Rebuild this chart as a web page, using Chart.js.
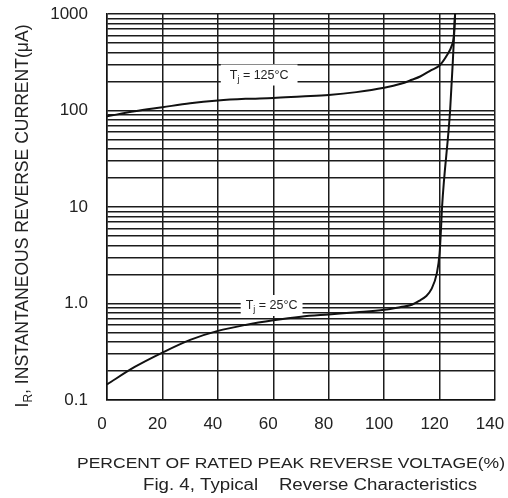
<!DOCTYPE html>
<html>
<head>
<meta charset="utf-8">
<script src="https://cdn.jsdelivr.net/npm/chart.js@4.4.1/dist/chart.umd.min.js"></script>
<style>
  html, body { margin: 0; padding: 0; background: #fff; }
  #wrap { width: 508px; height: 498px; }
</style>
</head>
<body>
<div id="wrap"><canvas id="chart" width="508" height="498"></canvas></div>
<script>
// values (percent of rated peak reverse voltage -> reverse current, uA)
const pct25 = [0, 10, 20, 30, 40, 50, 60, 70, 80, 90, 100, 106, 110, 113, 115, 117, 119, 120, 120.5, 120.9, 123.8, 124.8, 125.6];
const cur25 = [0.145, 0.22, 0.31, 0.42, 0.52, 0.6, 0.67, 0.73, 0.77, 0.81, 0.86, 0.92, 0.97, 1.08, 1.18, 1.4, 2.05, 3.3, 5.8, 10, 100, 330, 1000];

const pct125 = [0, 10, 20, 30, 40, 50, 60, 70, 80, 90, 100, 106, 110, 113, 117, 120, 122.6, 124.4, 125.1, 125.6];
const cur125 = [87, 98, 108, 119, 127, 132, 135, 140, 145, 155, 172, 189, 208, 225, 262, 293, 371, 470, 580, 1000];

const xTickLabels = ['0', '20', '40', '60', '80', '100', '120', '140'];
const yTickValues = [0.1, 1, 10, 100, 1000];
const yTickLabels = ['0.1', '1.0', '10', '100', '1000'];

const FONT = '"Liberation Sans", Arial, sans-serif';
const INK = '#222';

// curve labels, placed in data coordinates
const curveLabels = [
    { x: 54.9, y: 236, pad: 9, parts: [['T', 12.5, 0], ['j', 9, 3], [' = 125°C', 12.5, 0]] },
    { x: 59.4, y: 0.965, pad: 5, parts: [['T', 12.5, 0], ['j', 9, 3], [' = 25°C', 12.5, 0]] }
];

function toXY(xs, ys) {
    return xs.map((x, i) => ({ x: x, y: ys[i] }));
}

// draws a run of text pieces (size, baseline shift), optionally squeezed to a width
function drawParts(ctx, parts, cx, cy, fitWidth, angle) {
    let total = 0;
    const widths = parts.map(p => {
        ctx.font = p[1] + 'px ' + FONT;
        const w = ctx.measureText(p[0]).width;
        total += w;
        return w;
    });
    const sx = fitWidth ? fitWidth / total : 1;
    const main = parts[0][1];
    ctx.save();
    ctx.translate(cx, cy);
    ctx.rotate(angle || 0);
    ctx.scale(sx, 1);
    ctx.fillStyle = INK;
    ctx.textBaseline = 'alphabetic';
    ctx.textAlign = 'left';
    let x = -total / 2;
    parts.forEach((p, i) => {
        ctx.font = p[1] + 'px ' + FONT;
        ctx.fillText(p[0], x, main * 0.36 + p[2]);
        x += widths[i];
    });
    ctx.restore();
    return total * sx;
}

const labelPlugin = {
    id: 'curveLabels',
    beforeDatasetsDraw(chart) {
        const ctx = chart.ctx;
        const xs = chart.scales.x, ys = chart.scales.y;
        curveLabels.forEach(l => {
            const cx = xs.getPixelForValue(l.x);
            const cy = ys.getPixelForValue(l.y);
            let w = 0;
            l.parts.forEach(p => { ctx.font = p[1] + 'px ' + FONT; w += ctx.measureText(p[0]).width; });
            ctx.fillStyle = '#fff';
            ctx.fillRect(cx - w / 2 - l.pad, cy - 10, w + l.pad * 2, 21);
            drawParts(ctx, l.parts, cx, cy, 0, 0);
        });
    }
};

const titlePlugin = {
    id: 'titles',
    afterDraw(chart) {
        const ctx = chart.ctx;
        drawParts(ctx, [['I', 17.5, 0], ['R', 12, 4], [', INSTANTANEOUS REVERSE CURRENT(μA)', 17.5, 0]],
            22, 216, 383, -Math.PI / 2);
        drawParts(ctx, [['PERCENT OF RATED PEAK REVERSE VOLTAGE(%)', 15.5, 0]], 291, 462, 428, 0);
        drawParts(ctx, [['Fig. 4, Typical    Reverse Characteristics', 16, 0]], 310, 484, 334, 0);
    }
};

const gridStyle = { color: '#1c1c1c', lineWidth: 1.5, drawTicks: false };

new Chart(document.getElementById('chart'), {
    type: 'line',
    data: {
        datasets: [
            { label: 'Tj = 125°C', data: toXY(pct125, cur125) },
            { label: 'Tj = 25°C', data: toXY(pct25, cur25) }
        ]
    },
    options: {
        responsive: false,
        devicePixelRatio: 1,
        animation: false,
        layout: { padding: 0 },
        plugins: { legend: { display: false }, tooltip: { enabled: false } },
        elements: {
            point: { radius: 0 },
            line: { borderColor: '#111', borderWidth: 2, cubicInterpolationMode: 'monotone', fill: false }
        },
        scales: {
            x: {
                type: 'linear',
                min: 0,
                max: 140,
                grid: gridStyle,
                border: { display: true, color: '#111', width: 1.5 },
                ticks: {
                    stepSize: 20,
                    padding: 14,
                    labelOffset: -5,
                    color: INK,
                    font: { family: FONT, size: 17 },
                    maxRotation: 0,
                    callback: (v, i) => xTickLabels[i]
                },
                afterFit: s => {
                    s.height = 98;
                    s.paddingLeft = 0;
                    s.paddingRight = 13;
                }
            },
            y: {
                type: 'logarithmic',
                min: 0.1,
                max: 1000,
                grid: gridStyle,
                border: { display: true, color: '#111', width: 1.5 },
                afterBuildTicks: s => {
                    const vals = [];
                    for (let d = 0; d < yTickValues.length - 1; d++) {
                        for (let m = 1; m < 10; m++) vals.push(yTickValues[d] * m);
                    }
                    vals.push(yTickValues[yTickValues.length - 1]);
                    s.ticks = vals.map(v => ({ value: v }));
                },
                ticks: {
                    autoSkip: false,
                    padding: 19,
                    color: INK,
                    font: { family: FONT, size: 17 },
                    callback: v => {
                        const i = yTickValues.findIndex(t => Math.abs(t - v) < t * 1e-6);
                        return i >= 0 ? yTickLabels[i] : '';
                    }
                },
                afterFit: s => {
                    s.width = 107;
                    s.paddingTop = 14;
                    s.paddingBottom = 0;
                }
            }
        }
    },
    plugins: [labelPlugin, titlePlugin]
});
</script>
</body>
</html>
